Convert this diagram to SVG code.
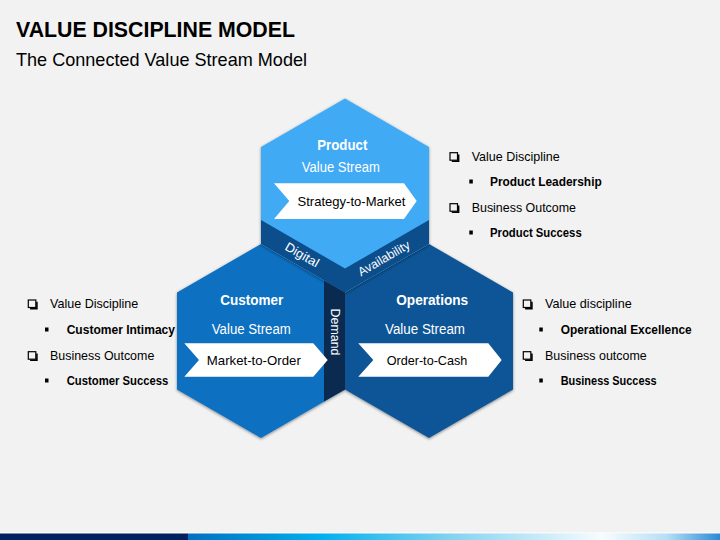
<svg xmlns="http://www.w3.org/2000/svg" width="720" height="540" viewBox="0 0 720 540">
<defs>
<style>
.t{font-family:"Liberation Sans",Arial,sans-serif;}
.b{font-weight:bold;}
.hexl{font-size:14.5px;font-weight:bold;fill:#ffffff;text-anchor:middle;}
.vs{font-size:14px;fill:#ffffff;text-anchor:middle;}
.chv{fill:#ffffff;}
.chl{font-size:13.5px;fill:#000000;text-anchor:middle;}
.li{font-size:13px;fill:#000000;}
.lb{font-size:12.8px;font-weight:bold;fill:#000000;}
.band{font-size:12.5px;fill:#ffffff;text-anchor:middle;}
</style>
<filter id="sh" x="-10%" y="-10%" width="120%" height="120%">
<feDropShadow dx="0" dy="1" stdDeviation="1.6" flood-color="#000" flood-opacity="0.45"/>
</filter>
<g id="cb">
<rect x="0" y="0" width="7.5" height="7.5" fill="none" stroke="#000" stroke-width="1.2"/>
<path d="M1.8,8.6 H8.6 V1.8" fill="none" stroke="#000" stroke-width="1.6"/>
</g>
<rect id="bl" x="0" y="0" width="3.5" height="4" fill="#000"/>
<linearGradient id="bar" x1="0" y1="0" x2="1" y2="0">
<stop offset="0" stop-color="#0070c0"/>
<stop offset="0.25" stop-color="#00b0f0"/>
<stop offset="0.5" stop-color="#86d3f0"/>
<stop offset="0.78" stop-color="#f8fcff"/>
<stop offset="0.9" stop-color="#b5dff5"/>
<stop offset="1" stop-color="#2a8ad6"/>
</linearGradient>
</defs>
<rect x="0" y="0" width="720" height="540" fill="#f2f2f2"/>
<g id="title">
<text class="t b" x="16" y="36.7" font-size="22" textLength="279" lengthAdjust="spacingAndGlyphs">VALUE DISCIPLINE MODEL</text>
<text class="t" x="16" y="65.7" font-size="19" textLength="291" lengthAdjust="spacingAndGlyphs">The Connected Value Stream Model</text>
</g>
<g id="customer">
<polygon points="261,244 345,292.5 345,389.5 261,438 177,389.5 177,292.5" fill="#0a6fc1" filter="url(#sh)"/>
</g>
<g id="operations">
<polygon points="429,244 513,292.5 513,389.5 429,438 345,389.5 345,292.5" fill="#0d5596" filter="url(#sh)"/>
</g>
<g id="product">
<polygon points="345,98.5 429,147 429,244 345,292.5 261,244 261,147" fill="#41aaf5" filter="url(#sh)"/>
</g>
<g id="connectors">
<polygon points="261,220 345,268.5 345,292.5 261,244" fill="#0c4d8c"/>
<polygon points="345,268.5 429,220 429,244 345,292.5" fill="#0c4d8c"/>
<polygon points="324,280.4 345,292.5 345,389.5 324,401.6" fill="#0a2a50"/>
<text class="t band" transform="translate(300,258.5) rotate(30)" textLength="37" lengthAdjust="spacingAndGlyphs">Digital</text>
<text class="t band" transform="translate(386,262) rotate(-30)" textLength="58" lengthAdjust="spacingAndGlyphs">Availability</text>
<text class="t band" transform="translate(330.5,332) rotate(90)" textLength="47" lengthAdjust="spacingAndGlyphs">Demand</text>
</g>
<g id="product-label">
<text class="t hexl" x="342.3" y="150" textLength="50" lengthAdjust="spacingAndGlyphs">Product</text>
<text class="t vs" x="340.8" y="171.7" textLength="78" lengthAdjust="spacingAndGlyphs">Value Stream</text>
<polygon class="chv" points="274,183.3 404,183.3 416.7,201 404,219 274,219 289.3,201"/>
<text class="t chl" x="351.5" y="205.5" textLength="108" lengthAdjust="spacingAndGlyphs">Strategy-to-Market</text>
</g>
<g id="customer-label">
<text class="t hexl" x="251.7" y="305" textLength="63" lengthAdjust="spacingAndGlyphs">Customer</text>
<text class="t vs" x="251.3" y="334.3" textLength="79" lengthAdjust="spacingAndGlyphs">Value Stream</text>
<polygon class="chv" points="184.3,343.3 313.3,343.3 327.7,360 313.3,376.7 184.3,376.7 199,360"/>
<text class="t chl" x="253.8" y="364.5" textLength="94" lengthAdjust="spacingAndGlyphs">Market-to-Order</text>
</g>
<g id="operations-label">
<text class="t hexl" x="432.2" y="305" textLength="72" lengthAdjust="spacingAndGlyphs">Operations</text>
<text class="t vs" x="425" y="334.3" textLength="80" lengthAdjust="spacingAndGlyphs">Value Stream</text>
<polygon class="chv" points="358.3,343.3 488.3,343.3 501.7,360 488.3,376.7 358.3,376.7 373.3,360"/>
<text class="t chl" x="427" y="364.5" textLength="80.7" lengthAdjust="spacingAndGlyphs">Order-to-Cash</text>
</g>
<g id="product-list">
<use href="#cb" x="450" y="152.7"/>
<text class="t li" x="471.7" y="160.7" textLength="88" lengthAdjust="spacingAndGlyphs">Value Discipline</text>
<use href="#bl" x="469.3" y="179.5"/>
<text class="t lb" x="490" y="185.7" textLength="111.7" lengthAdjust="spacingAndGlyphs">Product Leadership</text>
<use href="#cb" x="450" y="203.7"/>
<text class="t li" x="471.7" y="211.7" textLength="104.3" lengthAdjust="spacingAndGlyphs">Business Outcome</text>
<use href="#bl" x="469.3" y="230.5"/>
<text class="t lb" x="490" y="236.7" textLength="91.7" lengthAdjust="spacingAndGlyphs">Product Success</text>
</g>
<g id="customer-list">
<use href="#cb" x="28.3" y="300"/>
<text class="t li" x="50" y="308" textLength="88.3" lengthAdjust="spacingAndGlyphs">Value Discipline</text>
<use href="#bl" x="45" y="327.5"/>
<text class="t lb" x="66.7" y="333.7" textLength="108.3" lengthAdjust="spacingAndGlyphs">Customer Intimacy</text>
<use href="#cb" x="28.3" y="351.7"/>
<text class="t li" x="50" y="359.7" textLength="104.3" lengthAdjust="spacingAndGlyphs">Business Outcome</text>
<use href="#bl" x="45" y="378.5"/>
<text class="t lb" x="66.7" y="384.7" textLength="101.6" lengthAdjust="spacingAndGlyphs">Customer Success</text>
</g>
<g id="operations-list">
<use href="#cb" x="523.3" y="300"/>
<text class="t li" x="545" y="308" textLength="86.7" lengthAdjust="spacingAndGlyphs">Value discipline</text>
<use href="#bl" x="539.3" y="327.5"/>
<text class="t lb" x="560.7" y="333.7" textLength="131" lengthAdjust="spacingAndGlyphs">Operational Excellence</text>
<use href="#cb" x="523.3" y="351.7"/>
<text class="t li" x="545" y="359.7" textLength="101.7" lengthAdjust="spacingAndGlyphs">Business outcome</text>
<use href="#bl" x="539.3" y="378.5"/>
<text class="t lb" x="560.7" y="384.7" textLength="96" lengthAdjust="spacingAndGlyphs">Business Success</text>
</g>
<g id="footer">
<rect x="0" y="532.5" width="720" height="1" fill="#ffffff"/>
<rect x="0" y="533.5" width="188" height="6.5" fill="#002060"/>
<rect x="188" y="533.5" width="532" height="6.5" fill="url(#bar)"/>
</g>
</svg>
